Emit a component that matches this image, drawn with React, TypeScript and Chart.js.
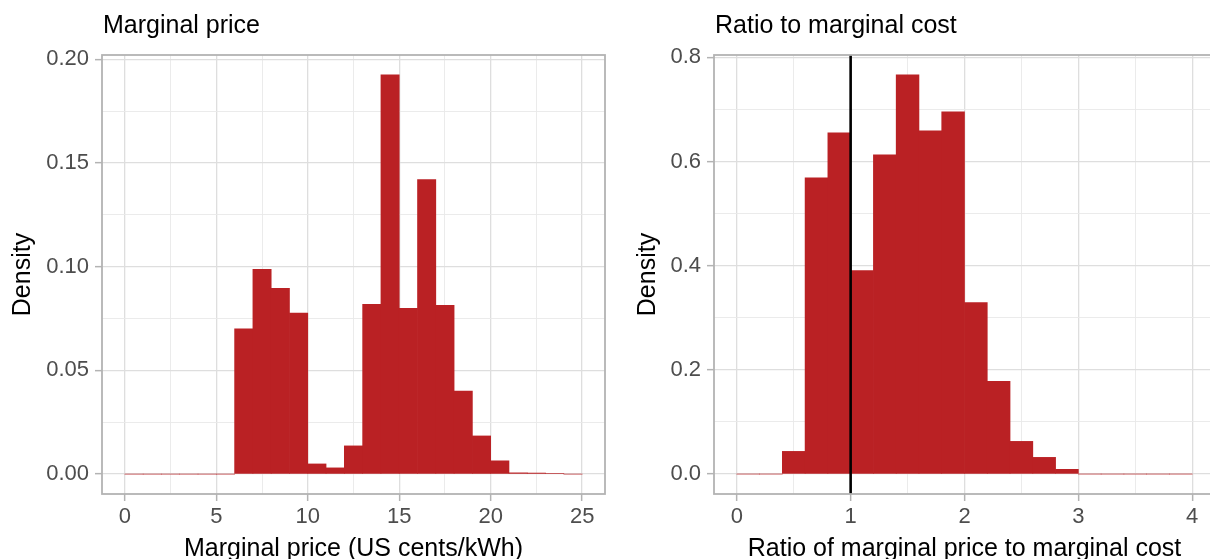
import React, { useEffect, useRef } from 'react';
import { Chart, registerables } from 'chart.js';

Chart.register(...registerables);

const FONT = '"Liberation Sans", Arial, Helvetica, sans-serif';
const BAR_COLOR = '#BA2124';

// Left panel: marginal price histogram (bin width 1 US cent/kWh)
const priceTitle = 'Marginal price';
const priceAxisTitle = 'Marginal price (US cents/kWh)';
const priceBinStarts = [0, 1, 2, 3, 4, 5, 6, 7, 8, 9, 10, 11, 12, 13, 14, 15, 16, 17, 18, 19, 20, 21, 22, 23, 24];
const priceDensity = [0, 0, 0, 0, 0, 0, 0.070, 0.0987, 0.0896, 0.0776, 0.0049, 0.0030, 0.0136, 0.0819, 0.1925, 0.0799, 0.1420, 0.0814, 0.0400, 0.0184, 0.0064, 0.0006, 0.0005, 0.0003, 0];
const priceBinWidth = 1;
const priceXMajor = [0, 5, 10, 15, 20, 25];
const priceXMinor = [2.5, 7.5, 12.5, 17.5, 22.5];
const priceYMajor = [0, 0.05, 0.1, 0.15, 0.2];
const priceYMinor = [0.025, 0.075, 0.125, 0.175];
const priceXRange = [-1.25, 26.25];
const priceYRange = [-0.0096, 0.2021];

// Right panel: ratio of marginal price to marginal cost (bin width 0.2)
const ratioTitle = 'Ratio to marginal cost';
const ratioAxisTitle = 'Ratio of marginal price to marginal cost';
const ratioBinStarts = [0, 0.2, 0.4, 0.6, 0.8, 1.0, 1.2, 1.4, 1.6, 1.8, 2.0, 2.2, 2.4, 2.6, 2.8, 3.0, 3.2, 3.4, 3.6, 3.8];
const ratioDensity = [0, 0, 0.0435, 0.5687, 0.655, 0.3904, 0.6128, 0.766, 0.6588, 0.695, 0.329, 0.178, 0.0627, 0.032, 0.009, 0, 0, 0, 0, 0];
const ratioBinWidth = 0.2;
const ratioXMajor = [0, 1, 2, 3, 4];
const ratioXMinor = [0.5, 1.5, 2.5, 3.5];
const ratioYMajor = [0, 0.2, 0.4, 0.6, 0.8];
const ratioYMinor = [0.1, 0.3, 0.5, 0.7];
const ratioXRange = [-0.2, 4.2];
const ratioYRange = [-0.0383, 0.8043];
const ratioReference = 1;

const TICK_SIZE = 22;
const TITLE_SIZE = 25;

const isIn = (arr: number[], v: number) => arr.some((a) => Math.abs(a - v) < 1e-9);

function axis(
  major: number[],
  minor: number[],
  range: number[],
  fmt: (v: number) => string,
  horizontal: boolean,
  size: number,
  title: string,
  titlePad: any
) {
  const all = [...major, ...minor].sort((a, b) => a - b);
  return {
    type: 'linear',
    min: range[0],
    max: range[1],
    offset: false,
    afterBuildTicks: (scale: any) => {
      scale.ticks = all.map((v) => ({ value: v }));
    },
    afterFit: (scale: any) => {
      if (horizontal) scale.height = size;
      else scale.width = size;
    },
    ticks: {
      autoSkip: false,
      maxRotation: 0,
      minRotation: 0,
      padding: horizontal ? 3 : 6,
      color: '#4d4d4d',
      font: { family: FONT, size: TICK_SIZE },
      callback: (v: any) => (isIn(major, Number(v)) ? fmt(Number(v)) : ''),
    },
    grid: {
      offset: false,
      drawOnChartArea: true,
      tickLength: 7,
      color: (ctx: any) => (isIn(major, ctx.tick?.value) ? '#dedede' : '#e9e9e9'),
      lineWidth: (ctx: any) => (isIn(major, ctx.tick?.value) ? 1.3 : 0.9),
      tickColor: (ctx: any) => (isIn(major, ctx.tick?.value) ? '#b3b3b3' : 'rgba(0,0,0,0)'),
      tickWidth: 1.5,
    },
    border: { display: false },
    title: {
      display: true,
      text: title,
      color: '#000',
      font: { family: FONT, size: TITLE_SIZE },
      padding: titlePad,
    },
  };
}

const panelDecor = {
  id: 'panelDecor',
  afterDatasetsDraw(chart: any) {
    const { ctx, chartArea } = chart;
    ctx.save();
    ctx.strokeStyle = '#b3b3b3';
    ctx.lineWidth = 1.8;
    ctx.strokeRect(chartArea.left, chartArea.top, chartArea.right - chartArea.left, chartArea.bottom - chartArea.top);
    ctx.restore();
  },
  afterDraw(chart: any, _args: any, opts: any) {
    const { ctx, chartArea } = chart;
    if (!opts || !opts.text) return;
    ctx.save();
    ctx.font = `${TITLE_SIZE}px ${FONT}`;
    ctx.fillStyle = '#000';
    ctx.textAlign = 'left';
    ctx.textBaseline = 'alphabetic';
    ctx.fillText(opts.text, chartArea.left + 1, opts.baseline);
    ctx.restore();
  },
};

function buildConfig(
  binStarts: number[],
  density: number[],
  binWidth: number,
  xMajor: number[],
  xMinor: number[],
  yMajor: number[],
  yMinor: number[],
  xRange: number[],
  yRange: number[],
  xFmt: (v: number) => string,
  yFmt: (v: number) => string,
  title: string,
  xTitle: string,
  yAxisWidth: number,
  yTitlePad: any,
  padRight: number,
  refLine: number | null
) {
  const datasets: any[] = [
    {
      type: 'bar',
      data: binStarts.map((s, i) => ({ x: s + binWidth / 2, y: density[i] })),
      backgroundColor: BAR_COLOR,
      borderWidth: 0,
      barPercentage: 1,
      categoryPercentage: 1,
      order: 1,
    },
  ];
  if (refLine !== null) {
    datasets.push({
      type: 'line',
      data: [
        { x: refLine, y: yRange[0] },
        { x: refLine, y: yRange[1] },
      ],
      borderColor: '#000',
      borderWidth: 2.6,
      pointRadius: 0,
      order: 0,
    });
  }
  return {
    type: 'bar',
    data: { datasets },
    plugins: [panelDecor],
    options: {
      responsive: false,
      animation: false,
      devicePixelRatio: 1,
      layout: { padding: { left: 0, right: padRight, top: 55, bottom: 0 } },
      plugins: {
        legend: { display: false },
        tooltip: { enabled: false },
        title: { display: false },
        panelDecor: { text: title, baseline: 33 },
      },
      scales: {
        x: axis(xMajor, xMinor, xRange, xFmt, true, 65, xTitle, { top: 0, bottom: -5 }),
        y: axis(yMajor, yMinor, yRange, yFmt, false, yAxisWidth, 'Density', yTitlePad),
      },
    },
  };
}

function Panel(props: { config: any; left: number; width: number }) {
  const ref = useRef<HTMLCanvasElement | null>(null);
  useEffect(() => {
    if (!ref.current) return;
    const chart = new Chart(ref.current, props.config);
    return () => chart.destroy();
  }, []);
  return (
    <div style={{ position: 'absolute', left: props.left, top: 0, width: props.width, height: 559 }}>
      <canvas ref={ref} width={props.width} height={559} style={{ width: props.width, height: 559, display: 'block' }} />
    </div>
  );
}

export default function App() {
  const leftCfg = buildConfig(
    priceBinStarts, priceDensity, priceBinWidth,
    priceXMajor, priceXMinor, priceYMajor, priceYMinor,
    priceXRange, priceYRange,
    (v) => String(v), (v) => v.toFixed(2),
    priceTitle, priceAxisTitle, 102, { top: 8, bottom: 0 }, 5, null
  );
  const rightCfg = buildConfig(
    ratioBinStarts, ratioDensity, ratioBinWidth,
    ratioXMajor, ratioXMinor, ratioYMajor, ratioYMinor,
    ratioXRange, ratioYRange,
    (v) => String(v), (v) => v.toFixed(1),
    ratioTitle, ratioAxisTitle, 104, { top: 23, bottom: 0 }, 1, ratioReference
  );
  return (
    <div style={{ position: 'fixed', left: 0, top: 0, width: 1210, height: 559, overflow: 'hidden', background: '#fff' }}>
      <Panel config={leftCfg} left={0} width={610} />
      <Panel config={rightCfg} left={610} width={606} />
    </div>
  );
}
